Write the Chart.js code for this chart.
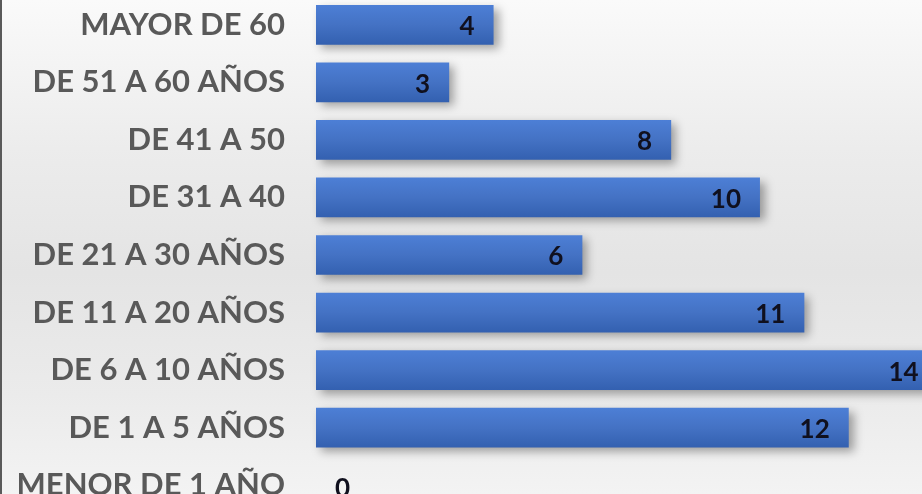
<!DOCTYPE html>
<html><head><meta charset="utf-8">
<script src="https://cdn.jsdelivr.net/npm/chart.js@4"></script>
<style>
html,body{margin:0;padding:0;width:922px;height:494px;overflow:hidden;}
body{background:linear-gradient(to bottom,#fafafa 0%,#ececec 30%,#e4e4e4 55%,#ebebeb 80%,#f3f3f3 100%);position:relative;}
#edge{position:absolute;left:0;top:0;width:2px;height:494px;background:#5a5a5a;z-index:2;}
#wrap{position:absolute;left:0;top:-4px;width:922px;height:518px;}
</style></head>
<body><div id="edge"></div><div id="wrap"><canvas id="c" width="922" height="518"></canvas></div>
<script>
const categories = ["MAYOR DE 60","DE 51 A 60 AÑOS","DE 41 A 50","DE 31 A 40","DE 21 A 30 AÑOS","DE 11 A 20 AÑOS","DE 6 A 10 AÑOS","DE 1 A 5 AÑOS","MENOR DE 1 AÑO"];
const values = [4,3,8,10,6,11,14,12,0];

const shadowPlugin = {
  id:'shadow',
  beforeDatasetsDraw(chart){const c=chart.ctx;c.save();c.shadowColor='rgba(0,0,0,0.35)';c.shadowBlur=9;c.shadowOffsetX=5;c.shadowOffsetY=4;},
  afterDatasetsDraw(chart){chart.ctx.restore();}
};
const labelPlugin = {
  id:'vlabels',
  afterDraw(chart){
    const c=chart.ctx; const meta=chart.getDatasetMeta(0);
    c.save(); c.font='bold 26px Lato'; c.fillStyle='#10101e'; c.textBaseline='middle';
    meta.data.forEach((el,i)=>{
      const v=values[i];
      if(v===0){c.textAlign='left'; c.fillText(String(v), el.x+19, el.y+3);}
      else {c.textAlign='right'; c.fillText(String(v), el.x-19, el.y+2);}
    });
    c.restore();
  }
};

new Chart(document.getElementById('c'),{
  type:'bar',
  data:{labels:categories,datasets:[{
    data:values,
    backgroundColor:(ctx)=>{
      const ch=ctx.chart; const ca=ch.chartArea; if(!ca) return '#4472c4';
      const y=ch.scales.y.getPixelForValue(ctx.dataIndex);
      const g=ch.ctx.createLinearGradient(0,y-20,0,y+20);
      g.addColorStop(0,'#4d7fd6');g.addColorStop(0.5,'#4472c4');g.addColorStop(1,'#3360b0');
      return g;
    },
    borderWidth:0,
    categoryPercentage:1,
    barPercentage:0.69,
    clip:false
  }]},
  options:{
    indexAxis:'y',
    responsive:false,animation:false,
    layout:{padding:0},
    plugins:{legend:{display:false},tooltip:{enabled:false}},
    scales:{
      x:{min:0,max:13.65,display:false,grid:{display:false}},
      y:{
        grid:{display:false},border:{display:false},
        ticks:{color:'#595959',font:{family:'Lato',weight:'bold',size:31},padding:23},
        afterFit(s){s.width=316;s.paddingTop=0;s.paddingBottom=0;}
      }
    }
  },
  plugins:[shadowPlugin,labelPlugin]
});
</script></body></html>
